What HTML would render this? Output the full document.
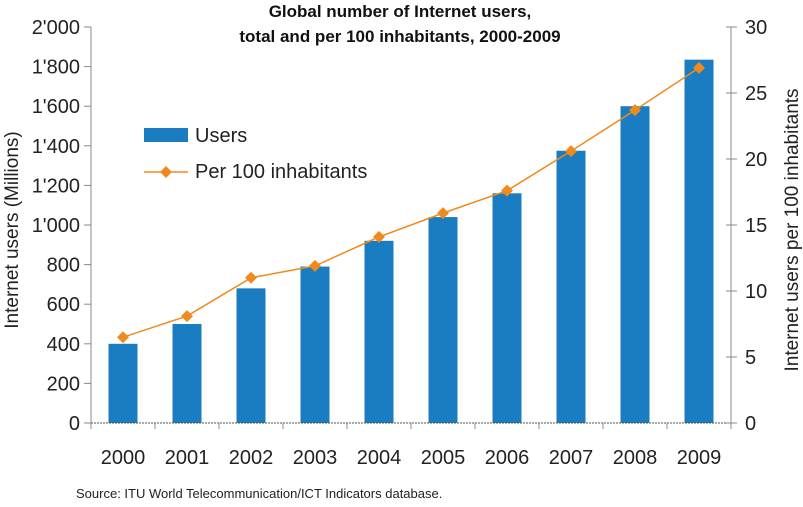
<!DOCTYPE html>
<html><head><meta charset="utf-8"><style>
body{margin:0;background:#fff;}
svg text{font-family:"Liberation Sans",sans-serif;}
</style></head><body>
<svg id="chart" width="803" height="502" xmlns="http://www.w3.org/2000/svg">
<text x="400" y="17" text-anchor="middle" font-size="17" font-weight="bold" fill="#111">Global number of Internet users,</text>
<text x="400" y="42" text-anchor="middle" font-size="17" font-weight="bold" fill="#111">total and per 100 inhabitants, 2000-2009</text>
<g id="bars"></g>
<g id="axes"></g>
<g id="line"></g>
<text transform="translate(18,230) rotate(-90)" text-anchor="middle" font-size="19" fill="#222">Internet users (Millions)</text>
<text transform="translate(798,230) rotate(-90)" text-anchor="middle" font-size="19" fill="#222">Internet users per 100 inhabitants</text>
<rect x="144" y="128" width="44" height="14" fill="#1a7cc1"/>
<text x="195" y="142" font-size="20" fill="#222">Users</text>
<line x1="144" y1="172" x2="188" y2="172" stroke="#f08a1c" stroke-width="1.5"/>
<path d="M166,166 L172,172 L166,178 L160,172Z" fill="#f08a1c"/>
<text x="195" y="178" font-size="20" fill="#222">Per 100 inhabitants</text>
<text x="76" y="498" font-size="13" fill="#222">Source: ITU World Telecommunication/ICT Indicators database.</text>
</svg>
<script>
const years = ["2000","2001","2002","2003","2004","2005","2006","2007","2008","2009"];
const users = [400, 500, 680, 790, 920, 1040, 1160, 1375, 1600, 1835];
const per100 = [6.5, 8.1, 11.0, 11.9, 14.1, 15.9, 17.6, 20.6, 23.7, 26.9];
const leftTicks = ["0","200","400","600","800","1'000","1'200","1'400","1'600","1'800","2'000"];
const rightTicks = ["0","5","10","15","20","25","30"];

const X0=91, X1=731, Y0=423, Y1=27;
const NS="http://www.w3.org/2000/svg";
const band=(X1-X0)/years.length;
const xc=i=>X0+band*(i+0.5);
const yL=v=>Y0-(v/2000)*(Y0-Y1);
const yR=v=>Y0-(v/30)*(Y0-Y1);
function mk(tag,attrs,parent){const e=document.createElementNS(NS,tag);for(const k in attrs)e.setAttribute(k,attrs[k]);parent.appendChild(e);return e;}
const bars=document.getElementById('bars'),axes=document.getElementById('axes'),line=document.getElementById('line');
users.forEach((v,i)=>{
  const r=mk('rect',{x:xc(i)-14.5,y:yL(v),width:29,height:Y0-yL(v),fill:'#1a7cc1'},bars);
  
  
  const t=mk('text',{x:xc(i),y:464,'text-anchor':'middle','font-size':'20',fill:'#222'},axes);
  t.textContent=years[i];
  
  
});
const grey='#888';
let a=mk('line',{x1:X0,y1:Y1,x2:X0,y2:Y0,stroke:grey},axes);


a=mk('line',{x1:X1,y1:Y1,x2:X1,y2:Y0,stroke:grey},axes);


a=mk('line',{x1:X0,y1:Y0,x2:X1+6,y2:Y0,stroke:'#555','stroke-dasharray':'2,1'},axes);


for(let i=0;i<=years.length;i++){const tk=mk('line',{x1:X0+band*i,y1:Y0,x2:X0+band*i,y2:Y0+6,stroke:grey},axes);

}
leftTicks.forEach((s,i)=>{const y=yL(i*200);
  const tk=mk('line',{x1:X0-7,y1:y,x2:X0,y2:y,stroke:grey},axes);
  
  
  const t=mk('text',{x:80,y:y+7,'text-anchor':'end','font-size':'20',fill:'#222'},axes);t.textContent=s;
  
  
});
rightTicks.forEach((s,i)=>{const y=yR(i*5);
  const tk=mk('line',{x1:X1-5,y1:y,x2:X1+6,y2:y,stroke:grey},axes);
  
  
  const t=mk('text',{x:745,y:y+7,'font-size':'20',fill:'#222'},axes);t.textContent=s;
  
  
});
const pl=mk('polyline',{points:per100.map((v,i)=>xc(i)+','+yR(v)).join(' '),fill:'none',stroke:'#f08a1c','stroke-width':'1.5'},line);


per100.forEach((v,i)=>{const x=xc(i),y=yR(v);
  const p=mk('path',{d:`M${x},${y-6} L${x+6},${y} L${x},${y+6} L${x-6},${y}Z`,fill:'#f08a1c'},line);
  
  
});
</script>
</body></html>
